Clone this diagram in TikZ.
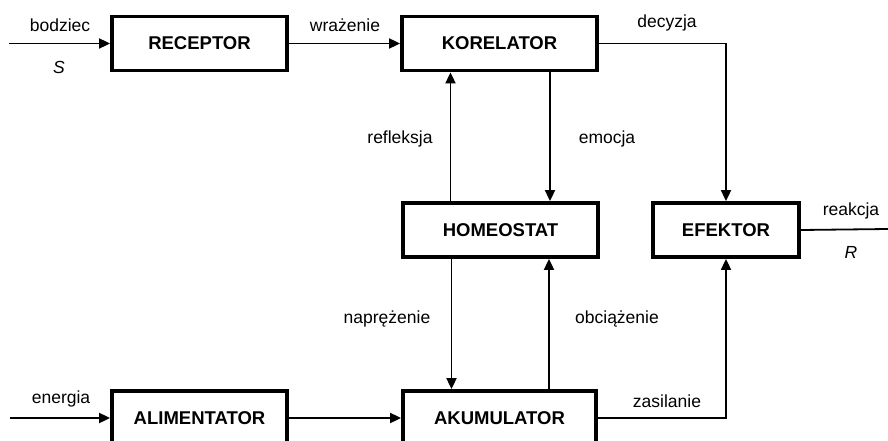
\documentclass[tikz,border=0pt]{standalone}
\usepackage{fontspec}
\setmainfont{Liberation Sans}
\usetikzlibrary{arrows.meta}
\begin{document}
\begin{tikzpicture}[x=1pt,y=-1pt]
  \tikzstyle{blok}=[draw,line width=3.8pt,minimum height=54pt,inner sep=0pt,font=\fontsize{18.5}{20}\selectfont\bfseries]
  \tikzstyle{opis}=[inner sep=0pt,font=\fontsize{17.5}{19}\selectfont]
  \tikzstyle{linia}=[line width=1.8pt]
  \tikzstyle{strzalka}=[linia,-{Triangle[length=11pt,width=10pt]}]
  \clip (0,0) rectangle (888,441);
  \node[blok,minimum width=175pt] (rec) at (199.5,43.5) {RECEPTOR};
  \node[blok,minimum width=195pt] (kor) at (499.5,43.5) {KORELATOR};
  \node[blok,minimum width=195pt] (hom) at (500.5,230) {HOMEOSTAT};
  \node[blok,minimum width=146pt] (efe) at (726,230) {EFEKTOR};
  \node[blok,minimum width=175pt] (ali) at (199.5,418) {ALIMENTATOR};
  \node[blok,minimum width=193pt] (aku) at (499.5,418) {AKUMULATOR};
  \coordinate (wejS) at (9,43.5);
  \coordinate (wejE) at (10,418);
  \coordinate (wyjR) at (888,229);
  \draw[strzalka] (wejS) -- (rec);
  \draw[strzalka] (rec) -- (kor);
  \draw[strzalka] (kor.east) -| (efe.north);
  \draw[strzalka] ([xshift=-50pt]hom.north) -- ([xshift=-49pt]kor.south);
  \draw[strzalka] ([xshift=50.5pt]kor.south) -- ([xshift=49.5pt]hom.north);
  \draw[strzalka] ([xshift=-49pt]hom.south) -- ([xshift=-48pt]aku.north);
  \draw[strzalka] ([xshift=49.5pt]aku.north) -- ([xshift=48.5pt]hom.south);
  \draw[linia] (efe.east) -- (wyjR);
  \draw[strzalka] (wejE) -- (ali);
  \draw[strzalka] (ali) -- (aku);
  \draw[strzalka] (aku.east) -| (efe.south);
  \node[opis] (lbodziec) at (60,25) {bodziec};
  \node[opis] (lS) at (59,67) {\textit{S}};
  \node[opis] (lwrazenie) at (345,25) {wrażenie};
  \node[opis] (ldecyzja) at (667,23) {decyzja};
  \node[opis] (lrefleksja) at (400,139) {refleksja};
  \node[opis] (lemocja) at (607,139) {emocja};
  \node[opis] (lreakcja) at (851,211) {reakcja};
  \node[opis] (lR) at (851,252) {\textit{R}};
  \node[opis] (lnaprezenie) at (387,319) {naprężenie};
  \node[opis] (lobciazenie) at (617,319) {obciążenie};
  \node[opis] (lenergia) at (61,399) {energia};
  \node[opis] (lzasilanie) at (667,401) {zasilanie};
\end{tikzpicture}
\end{document}
